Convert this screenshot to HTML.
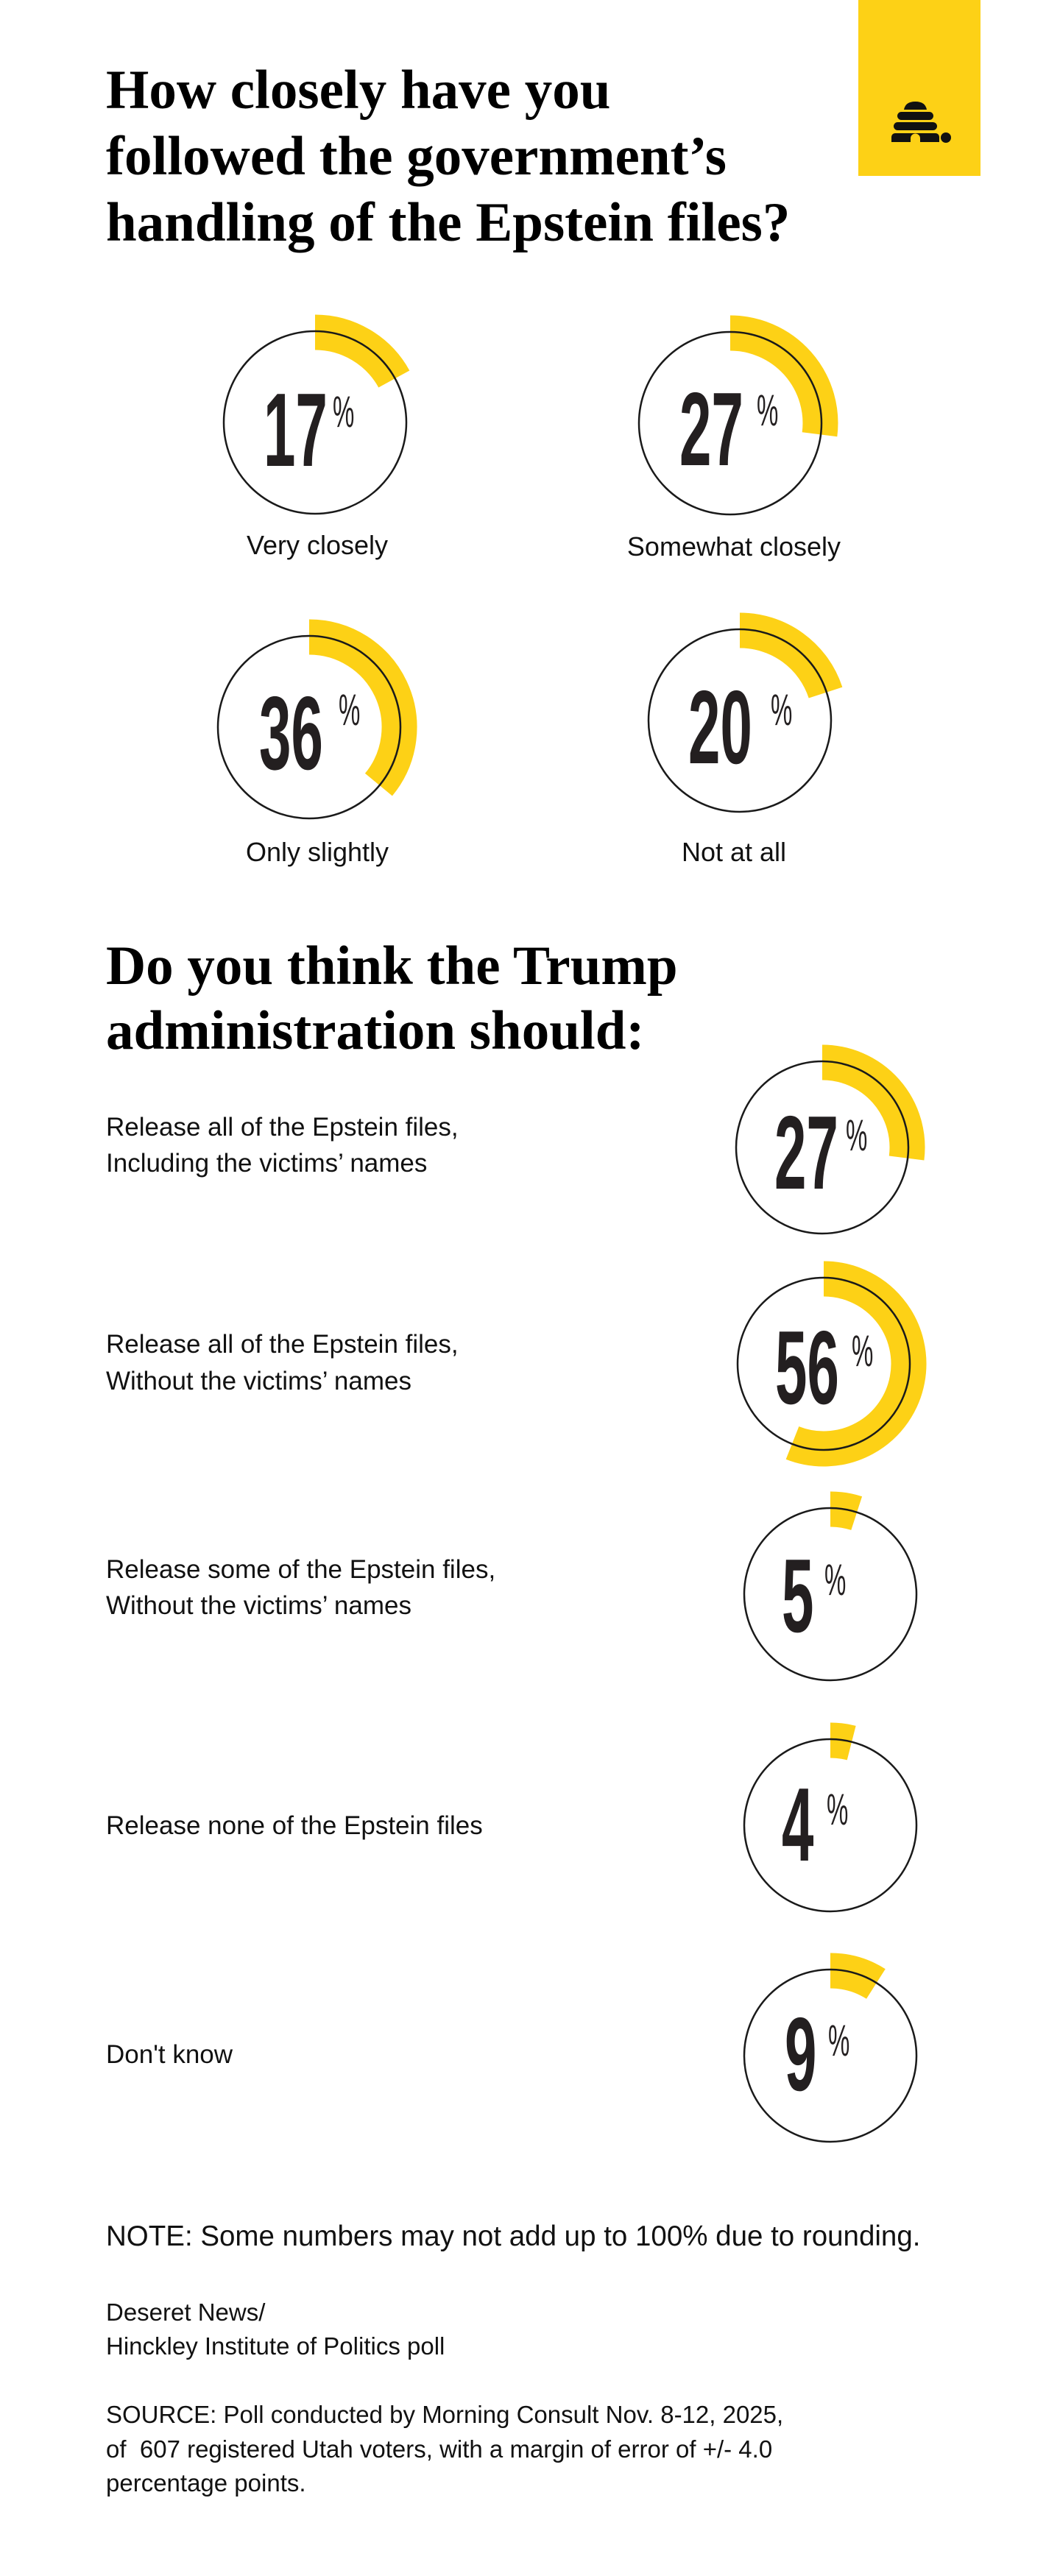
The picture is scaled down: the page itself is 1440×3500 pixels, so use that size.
<!DOCTYPE html>
<html><head><meta charset="utf-8">
<style>
html,body{margin:0;padding:0;background:#fff;}
svg{display:block;}
.t{font-family:"Liberation Serif",serif;font-weight:700;font-size:75px;fill:#000;}
.l{font-family:"Liberation Sans",sans-serif;font-size:35px;fill:#111;}
.l1{font-family:"Liberation Sans",sans-serif;font-size:36px;fill:#111;}
.f{font-family:"Liberation Sans",sans-serif;font-size:33px;fill:#111;}
.n{font-family:"Liberation Sans",sans-serif;font-weight:700;font-size:142px;fill:#231f20;}
.p{font-family:"Liberation Sans",sans-serif;font-size:60px;fill:#231f20;}
.arc{fill:none;stroke:#FDD116;stroke-width:48;}
.c{fill:none;stroke:#1a1a1a;stroke-width:2.5;}
</style></head>
<body>
<svg width="1440" height="3500" viewBox="0 0 1440 3500" xmlns="http://www.w3.org/2000/svg">
<rect width="1440" height="3500" fill="#fff"/>
<rect x="1166" y="0" width="166" height="239" fill="#FDD116"/>
<g fill="#111">
<path d="M1228 149 Q1230 138 1243.5 138 Q1257 138 1259 149 Z"/>
<rect x="1219" y="152" width="49" height="11" rx="5.5"/>
<rect x="1214" y="166" width="59" height="11" rx="5.5"/>
<path d="M1216 181 H1271 A5 5 0 0 1 1276 186 V193 H1250 V188 A6.5 6.5 0 0 0 1237 188 V193 H1211 V186 A5 5 0 0 1 1216 181 Z"/>
<circle cx="1285" cy="187" r="7"/>
</g>

<text class="t" x="144" y="147">How closely have you</text>
<text class="t" x="144" y="237">followed the government’s</text>
<text class="t" x="144" y="327">handling of the Epstein files?</text>

<path class="arc" d="M428 451.5 A122.5 122.5 0 0 1 535.3 515.0"/>
<circle class="c" cx="428" cy="574" r="124"/>
<text class="n" transform="translate(358,633) scale(0.55,1)">17</text>
<text class="p" transform="translate(452,580) scale(0.55,1)">%</text>
<text class="l1" x="431" y="753" text-anchor="middle">Very closely</text>

<path class="arc" d="M992 452.5 A122.5 122.5 0 0 1 1113.5 590.3"/>
<circle class="c" cx="992" cy="575" r="124"/>
<text class="n" transform="translate(923,632) scale(0.55,1)">27</text>
<text class="p" transform="translate(1028,578) scale(0.55,1)">%</text>
<text class="l1" x="997" y="755" text-anchor="middle">Somewhat closely</text>

<path class="arc" d="M420 865.5 A122.5 122.5 0 0 1 514.4 1066.1"/>
<circle class="c" cx="420" cy="988" r="124"/>
<text class="n" transform="translate(352,1045) scale(0.55,1)">36</text>
<text class="p" transform="translate(460,985) scale(0.55,1)">%</text>
<text class="l1" x="431" y="1170" text-anchor="middle">Only slightly</text>

<path class="arc" d="M1005 856.5 A122.5 122.5 0 0 1 1121.5 941.1"/>
<circle class="c" cx="1005" cy="979" r="124"/>
<text class="n" transform="translate(935,1037) scale(0.55,1)">20</text>
<text class="p" transform="translate(1047,985) scale(0.55,1)">%</text>
<text class="l1" x="997" y="1170" text-anchor="middle">Not at all</text>

<text class="t" x="144" y="1337">Do you think the Trump</text>
<text class="t" x="144" y="1425">administration should:</text>

<text class="l" x="144" y="1543">Release all of the Epstein files,</text>
<text class="l" x="144" y="1592">Including the victims’ names</text>
<path class="arc" d="M1117 1443.5 A115.5 115.5 0 0 1 1231.6 1573.5"/>
<circle class="c" cx="1117" cy="1559" r="117"/>
<text class="n" transform="translate(1052,1615) scale(0.55,1)">27</text>
<text class="p" transform="translate(1149,1563) scale(0.55,1)">%</text>

<text class="l" x="144" y="1838">Release all of the Epstein files,</text>
<text class="l" x="144" y="1888">Without the victims’ names</text>
<path class="arc" d="M1119 1737.5 A115.5 115.5 0 1 1 1076.5 1960.4"/>
<circle class="c" cx="1119" cy="1853" r="117"/>
<text class="n" transform="translate(1053,1907) scale(0.55,1)">56</text>
<text class="p" transform="translate(1157,1856) scale(0.55,1)">%</text>

<text class="l" x="144" y="2144">Release some of the Epstein files,</text>
<text class="l" x="144" y="2193">Without the victims’ names</text>
<path class="arc" d="M1128 2050.5 A115.5 115.5 0 0 1 1163.7 2056.1"/>
<circle class="c" cx="1128" cy="2166" r="117"/>
<text class="n" transform="translate(1062,2217) scale(0.55,1)">5</text>
<text class="p" transform="translate(1120,2167) scale(0.55,1)">%</text>

<text class="l" x="144" y="2492">Release none of the Epstein files</text>
<path class="arc" d="M1128 2364.5 A115.5 115.5 0 0 1 1156.7 2368.1"/>
<circle class="c" cx="1128" cy="2480" r="117"/>
<text class="n" transform="translate(1062,2528) scale(0.55,1)">4</text>
<text class="p" transform="translate(1123,2479) scale(0.55,1)">%</text>

<text class="l" x="144" y="2803">Don't know</text>
<path class="arc" d="M1128 2677.5 A115.5 115.5 0 0 1 1189.9 2695.5"/>
<circle class="c" cx="1128" cy="2793" r="117"/>
<text class="n" transform="translate(1066,2840) scale(0.55,1)">9</text>
<text class="p" transform="translate(1125,2793) scale(0.55,1)">%</text>

<text class="l" x="144" y="3051" style="font-size:38.5px">NOTE: Some numbers may not add up to 100% due to rounding.</text>
<text class="f" x="144" y="3153">Deseret News/</text>
<text class="f" x="144" y="3199">Hinckley Institute of Politics poll</text>
<text class="f" x="144" y="3292">SOURCE: Poll conducted by Morning Consult Nov. 8-12, 2025,</text>
<text class="f" x="144" y="3339" xml:space="preserve">of  607 registered Utah voters, with a margin of error of +/- 4.0</text>
<text class="f" x="144" y="3385">percentage points.</text>
</svg>
</body></html>
